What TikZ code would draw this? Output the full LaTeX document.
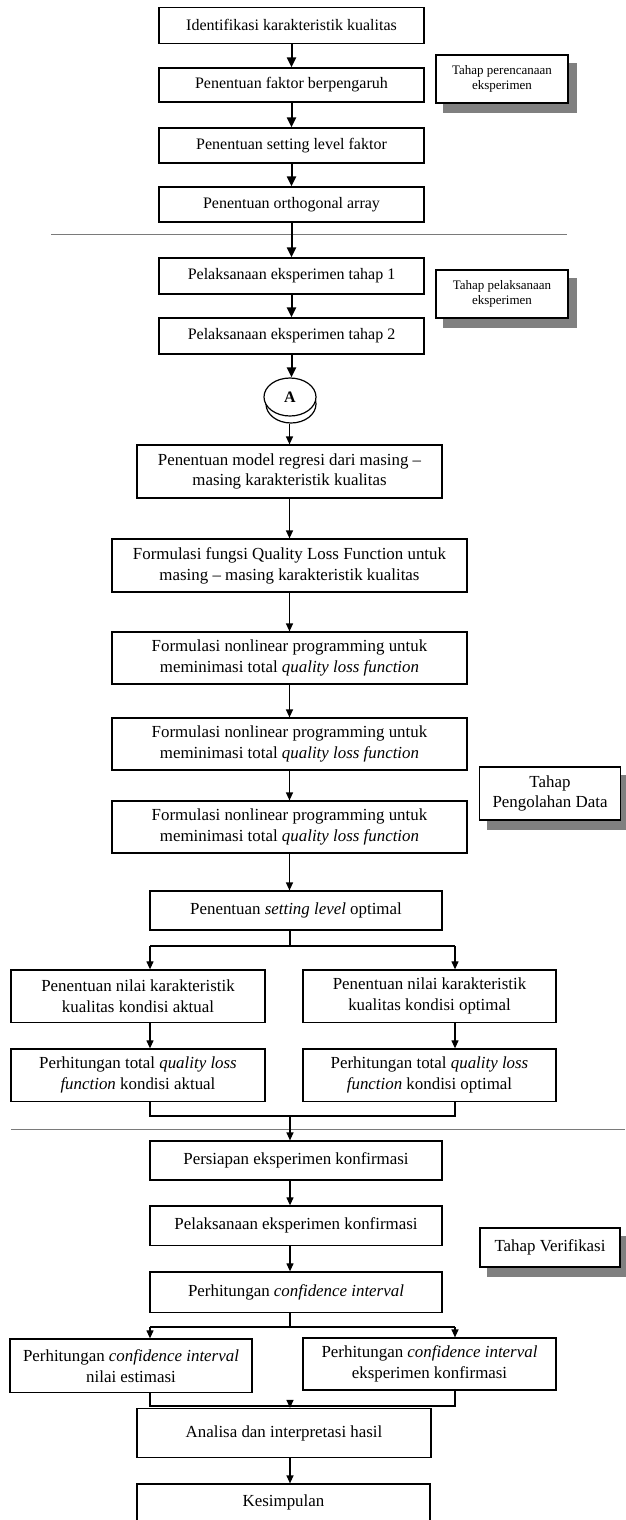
\documentclass[tikz,border=0pt]{standalone}
\usepackage{fontspec}
\setmainfont{Liberation Serif}
\usetikzlibrary{arrows.meta,calc,backgrounds,shapes.geometric}
\definecolor{shadowgray}{HTML}{808080}
\definecolor{sepgray}{HTML}{7A7A7A}
\newcommand{\fsA}{\fontsize{16}{19}\selectfont}
\newcommand{\fsB}{\fontsize{16.9}{20.8}\selectfont}
\newcommand{\fsS}{\fontsize{13}{15}\selectfont}
\begin{document}
\begin{tikzpicture}[x=1pt,y=-1pt,
  box/.style={draw, line width=1.2pt, inner sep=0pt, align=center, fill=white},
  topbox/.style={box, font=\fsA, minimum width=265pt},
  lowbox/.style={box, font=\fsB},
  sidebox/.style={box},
  thickarr/.style={line width=2pt, -{Triangle[length=10pt,width=9pt]}},
  arr/.style={line width=1.2pt, -{Triangle[length=8pt,width=7pt]}},
  conn/.style={line width=1.2pt},
  sep/.style={draw=sepgray, line width=1.5pt}]
\useasboundingbox (0,0) rectangle (625,1520);

% separators
\coordinate (L1a) at (51,234.7);
\coordinate (L1b) at (567,234.7);
\coordinate (L2a) at (11,1129.3);
\coordinate (L2b) at (625,1129.3);
\draw[sep] (L1a) -- (L1b);
\draw[sep] (L2a) -- (L2b);

% top section
\node[topbox, minimum height=36pt] (B1) at (291.5,25.2) {Identifikasi karakteristik kualitas};
\node[topbox, minimum height=34pt] (B2) at (291.5,85) {Penentuan faktor berpengaruh};
\node[topbox, minimum height=35pt] (B3) at (291.5,145.5) {Penentuan setting level faktor};
\node[topbox, minimum height=35pt] (B4) at (291.5,204.5) {Penentuan orthogonal array};
\node[topbox, minimum height=36pt] (B5) at (291.5,276) {Pelaksanaan eksperimen tahap 1};
\node[topbox, minimum height=36pt] (B6) at (291.5,336) {Pelaksanaan eksperimen tahap 2};

% connector A
\node[ellipse, draw, line width=1.2pt, fill=white, minimum width=50pt, minimum height=38pt, inner sep=0pt] (Aback) at (291,404) {};
\node[ellipse, draw, line width=1.2pt, fill=white, minimum width=52pt, minimum height=38pt, inner sep=0pt, font=\fsA\bfseries] (A) at (290,397) {A};

\draw[thickarr] (B1) -- (B2);
\draw[thickarr] (B2) -- (B3);
\draw[thickarr] (B3) -- (B4);
\draw[thickarr] (B4) -- (B5);
\draw[thickarr] (B5) -- (B6);
\draw[thickarr] (B6.south) -- (B6.south |- A.north);

% processing section
\node[lowbox, minimum width=305pt, minimum height=53pt] (B7) at (289.5,471.5) {Penentuan model regresi dari masing –\\masing karakteristik kualitas};
\node[lowbox, minimum width=355pt, minimum height=53pt] (B8) at (289.5,565.5) {Formulasi fungsi Quality Loss Function untuk\\masing – masing karakteristik kualitas};
\node[lowbox, minimum width=355pt, minimum height=52pt] (B9) at (289.5,658) {Formulasi nonlinear programming untuk\\meminimasi total \textit{quality loss function}};
\node[lowbox, minimum width=355pt, minimum height=52pt] (B10) at (289.5,744) {Formulasi nonlinear programming untuk\\meminimasi total \textit{quality loss function}};
\node[lowbox, minimum width=355pt, minimum height=52pt] (B11) at (289.5,827) {Formulasi nonlinear programming untuk\\meminimasi total \textit{quality loss function}};
\node[lowbox, minimum width=292pt, minimum height=39pt] (B12) at (296,910.5) {Penentuan \textit{setting level} optimal};

\draw[arr] (B7.south |- Aback.south) -- (B7.north);
\draw[arr] (B7) -- (B8);
\draw[arr] (B8) -- (B9);
\draw[arr] (B9) -- (B10);
\draw[arr] (B10) -- (B11);
\draw[arr] (B11.south) -- (B11.south |- B12.north);

\node[lowbox, minimum width=254pt, minimum height=52.7pt] (B13L) at (138,996.3) {Penentuan nilai karakteristik\\kualitas kondisi aktual};
\node[lowbox, minimum width=253pt, minimum height=52.7pt] (B13R) at (429.5,996.3) {Penentuan nilai karakteristik\\kualitas kondisi optimal};
\node[lowbox, minimum width=254pt, minimum height=52.7pt] (B14L) at (138,1075.3) {Perhitungan total \textit{quality loss}\\\textit{function} kondisi aktual};
\node[lowbox, minimum width=253pt, minimum height=52.7pt] (B14R) at (429.5,1075.3) {Perhitungan total \textit{quality loss}\\\textit{function} kondisi optimal};

\coordinate (sp) at (290,946);
\coordinate (spL) at (150,946);
\coordinate (spR) at (455,946);
\draw[conn] (B12.south -| sp) -- (sp);
\draw[conn] (spL) -- (spR);
\draw[arr] (spL) -- (spL |- B13L.north);
\draw[arr] (spR) -- (spR |- B13R.north);
\draw[arr] (spL |- B13L.south) -- (spL |- B14L.north);
\draw[arr] (spR |- B13R.south) -- (spR |- B14R.north);

\coordinate (mg) at (290,1116);
\coordinate (mgL) at (150,1116);
\coordinate (mgR) at (455,1116);
\draw[conn] (spL |- B14L.south) -- (mgL) -- (mgR) -- (spR |- B14R.south);

% verification section
\node[lowbox, minimum width=292pt, minimum height=39pt] (B15) at (296,1160.5) {Persiapan eksperimen konfirmasi};
\node[lowbox, minimum width=292pt, minimum height=39.7pt] (B16) at (296,1225.8) {Pelaksanaan eksperimen konfirmasi};
\node[lowbox, minimum width=292pt, minimum height=40.7pt] (B17) at (296,1292.3) {Perhitungan \textit{confidence interval}};

\draw[arr] (mg) -- (mg |- B15.north);
\draw[arr] (mg |- B15.south) -- (mg |- B16.north);
\draw[arr] (mg |- B16.south) -- (mg |- B17.north);

\node[lowbox, minimum width=242pt, minimum height=53.7pt] (B18L) at (131,1365.8) {Perhitungan \textit{confidence interval}\\nilai estimasi};
\node[lowbox, minimum width=253pt, minimum height=52pt] (B18R) at (429.5,1364) {Perhitungan \textit{confidence interval}\\eksperimen konfirmasi};

\coordinate (sq) at (290,1327);
\coordinate (sqL) at (150,1327);
\coordinate (sqR) at (455,1327);
\draw[conn] (B17.south -| sq) -- (sq);
\draw[conn] (sqL) -- (sqR);
\draw[arr] (sqL) -- (sqL |- B18L.north);
\draw[arr] (sqR) -- (sqR |- B18R.north);

\node[lowbox, minimum width=294pt, minimum height=49pt] (B19) at (284,1433) {Analisa dan interpretasi hasil};
\node[lowbox, minimum width=293pt, minimum height=37pt] (B20) at (283.5,1502.5) {Kesimpulan};

\coordinate (mq) at (290,1406);
\coordinate (mqL) at (150,1406);
\coordinate (mqR) at (455,1406);
\draw[conn] (sqL |- B18L.south) -- (mqL) -- (mqR) -- (sqR |- B18R.south);
\draw[arr] (mq) -- (mq |- B19.north);
\draw[arr] (mq |- B19.south) -- (mq |- B20.north);

% side labels
\node[sidebox, font=\fsS, minimum width=132pt, minimum height=48pt] (S1) at (502,79) {Tahap perencanaan\\eksperimen};
\node[sidebox, font=\fsS, minimum width=132pt, minimum height=48pt] (S2) at (502,294) {Tahap pelaksanaan\\eksperimen};
\node[sidebox, font=\fsB, minimum width=140.5pt, minimum height=53pt] (S3) at (550,793.5) {Tahap\\Pengolahan Data};
\node[sidebox, font=\fsB, minimum width=140pt, minimum height=39pt] (S4) at (550,1247.5) {Tahap Verifikasi};

\begin{scope}[on background layer]
  \foreach \s in {S1,S2,S3,S4}
    \fill[shadowgray] ($(\s.south west)+(8,9)$) rectangle ($(\s.north east)+(8,9)$);
\end{scope}
\end{tikzpicture}
\end{document}
